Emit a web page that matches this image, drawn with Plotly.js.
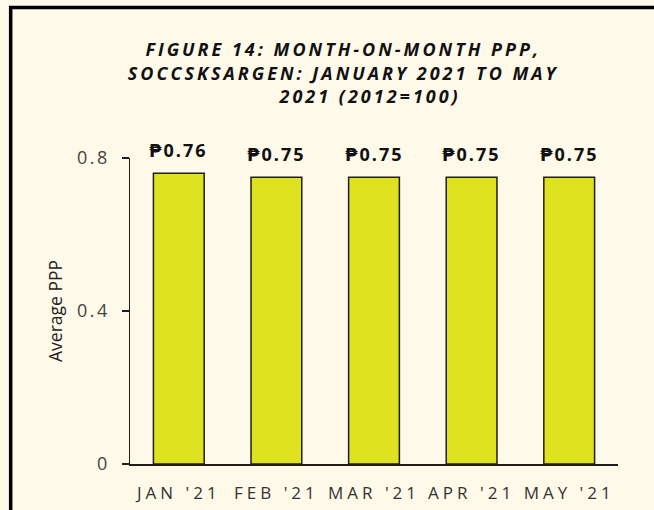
<!DOCTYPE html>
<html>
<head>
<meta charset="utf-8">
<script src="https://cdn.plot.ly/plotly-3.0.1.min.js"></script>
<style>
  html, body { margin: 0; padding: 0; background: #FEF9E9; }
  #chart { width: 654px; height: 510px; }
  .gtitle { letter-spacing: 3px; }
  .xtick text { letter-spacing: 4px; }
  .ytick text { letter-spacing: 2.5px; }
  .annotation-text { letter-spacing: 2px; }
</style>
</head>
<body>
<div id="chart"></div>
<script>
// Data
const months = ["JAN '21", "FEB '21", "MAR '21", "APR '21", "MAY '21"];
const ppp = [0.76, 0.75, 0.75, 0.75, 0.75];
const yTickVals = [0, 0.4, 0.8];
const yTickText = ["0", "0.4", "0.8"];

const trace = {
  type: 'bar',
  x: months,
  y: ppp,
  marker: { color: '#DFE21F', line: { color: '#1E1E1E', width: 1.5 } },
  hoverinfo: 'x+y'
};

const annotations = months.map((m, i) => ({
  x: m, y: ppp[i], xref: 'x', yref: 'y',
  text: '\u20B1' + ppp[i].toFixed(2),
  showarrow: false, yanchor: 'bottom', yshift: 9,
  font: { family: 'Open Sans, DejaVu Sans, sans-serif', size: 18, color: '#111', weight: 'bold' }
}));

const layout = {
  width: 654, height: 510,
  paper_bgcolor: '#FEF9E9',
  plot_bgcolor: '#FEF9E9',
  margin: { l: 130, r: 36, t: 158, b: 46 },
  showlegend: false,
  bargap: 0.48,
  title: {
    text: '<i><b>FIGURE 14: MONTH-ON-MONTH PPP,<br>SOCCSKSARGEN: JANUARY 2021 TO MAY<br>&nbsp;&nbsp;&nbsp;&nbsp;&nbsp;&nbsp;&nbsp;2021 (2012=100)</b></i>',
    x: 0.437, xref: 'paper', xanchor: 'center',
    y: 0.890, yref: 'container', yanchor: 'middle',
    font: { family: 'Open Sans, sans-serif', size: 18, color: '#111' }
  },
  xaxis: {
    type: 'category',
    showline: true, linecolor: '#1E1E1E', linewidth: 1.5,
    ticks: '', showgrid: false, zeroline: false,
    tickfont: { family: 'Open Sans, sans-serif', size: 17, color: '#333' },
    ticklabelstandoff: 13
  },
  yaxis: {
    range: [0, 0.8],
    tickvals: yTickVals, ticktext: yTickText,
    showline: true, linecolor: '#1E1E1E', linewidth: 1.5,
    ticks: 'outside', ticklen: 7, tickcolor: '#1E1E1E', tickwidth: 1.5,
    showgrid: false, zeroline: false,
    tickfont: { family: 'Open Sans, sans-serif', size: 18, color: '#444' },
    ticklabelstandoff: 8,
    title: { text: 'Average PPP', font: { family: 'Open Sans, sans-serif', size: 17.5, color: '#222' }, standoff: 10 }
  },
  annotations: annotations,
  shapes: [{
    type: 'path', xref: 'paper', yref: 'paper',
    path: 'M -0.2445 -0.3 L -0.2445 1.4918 L 1.2 1.4918',
    line: { color: '#000', width: 3.5 }
  }]
};

Plotly.newPlot('chart', [trace], layout, { displayModeBar: false, staticPlot: true });
</script>
</body>
</html>
